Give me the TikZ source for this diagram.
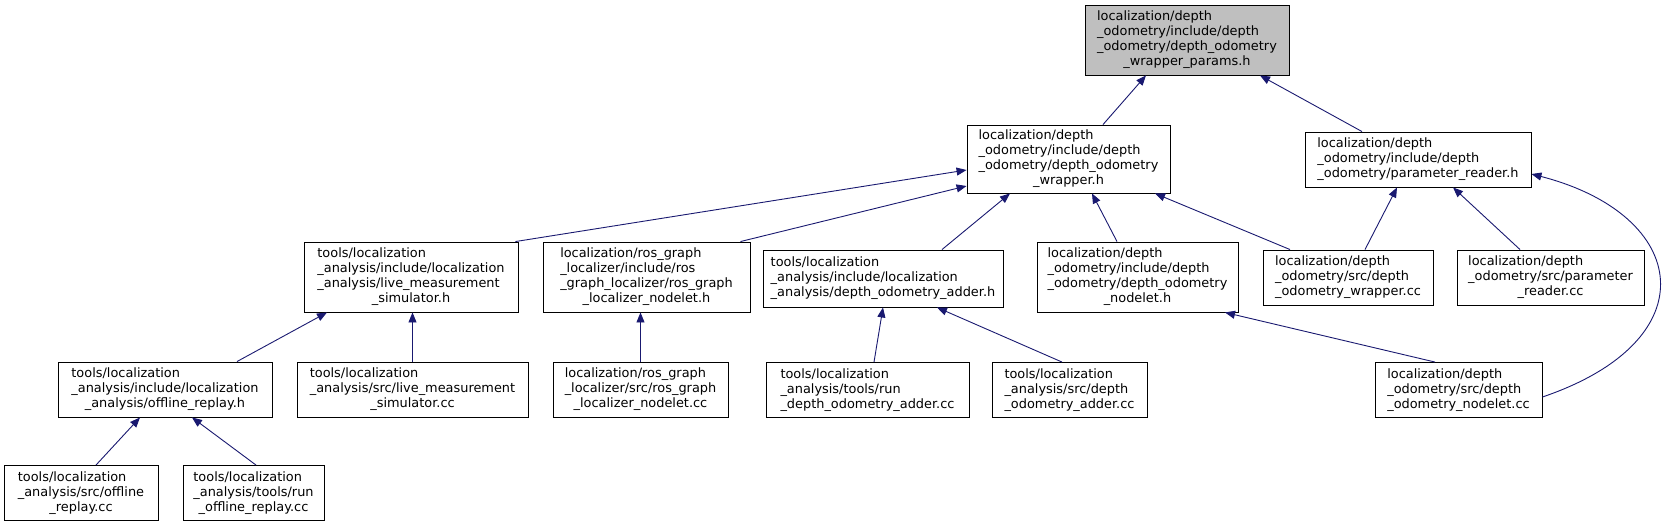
\documentclass[tikz,border=0pt]{standalone}
\usepackage{fontspec}
\setmainfont{DejaVu Sans}
\usepackage{tikz}
\usetikzlibrary{arrows.meta}
\definecolor{edgeblue}{HTML}{191970}
\definecolor{rootgray}{HTML}{BFBFBF}
% left-aligned lines, last line centred
\newcommand{\flines}[2]{\begin{tabular}{@{}l@{}}#1\\\multicolumn{1}{@{}c@{}}{#2}\end{tabular}}

\begin{document}
\begin{tikzpicture}[x=1pt, y=-1pt,
  filebox/.style={draw=black, line width=0.9pt, fill=white, inner sep=0pt,
    font=\fontsize{12.9}{15}\selectfont},
  incl/.style={draw=edgeblue, line width=0.9pt, -{Triangle[length=10pt, width=8pt, fill=edgeblue]}}]
  \useasboundingbox (0,0) rectangle (1676,527);

  % Root header
  \node[filebox, fill=rootgray, minimum width=204pt, minimum height=70pt] (params) at (1187,40)
    {\flines{localization/depth\\\_odometry/include/depth\\\_odometry/depth\_odometry}{\_wrapper\_params.h}};

  % Second row
  \node[filebox, minimum width=203pt, minimum height=68pt] (wrapperh) at (1068.5,159)
    {\flines{localization/depth\\\_odometry/include/depth\\\_odometry/depth\_odometry}{\_wrapper.h}};
  \node[filebox, minimum width=226pt, minimum height=55pt] (readerh) at (1418,159.5)
    {\flines{localization/depth\\\_odometry/include/depth}{\_odometry/parameter\_reader.h}};

  % Third row
  \node[filebox, minimum width=214pt, minimum height=70pt] (livesimh) at (411,277)
    {\flines{tools/localization\\\_analysis/include/localization\\\_analysis/live\_measurement}{\_simulator.h}};
  \node[filebox, minimum width=207pt, minimum height=70pt] (rosh) at (646.5,277)
    {\flines{localization/ros\_graph\\\_localizer/include/ros\\\_graph\_localizer/ros\_graph}{\_localizer\_nodelet.h}};
  \node[filebox, minimum width=240pt, minimum height=57pt] (adderh) at (883,278.5)
    {\flines{tools/localization\\\_analysis/include/localization}{\_analysis/depth\_odometry\_adder.h}};
  \node[filebox, minimum width=201pt, minimum height=70pt] (nodeleth) at (1137.5,277)
    {\flines{localization/depth\\\_odometry/include/depth\\\_odometry/depth\_odometry}{\_nodelet.h}};
  \node[filebox, minimum width=170pt, minimum height=55pt] (wrappercc) at (1348,277.5)
    {\flines{localization/depth\\\_odometry/src/depth}{\_odometry\_wrapper.cc}};
  \node[filebox, minimum width=187pt, minimum height=55pt] (readercc) at (1550.5,277.5)
    {\flines{localization/depth\\\_odometry/src/parameter}{\_reader.cc}};

  % Fourth row
  \node[filebox, minimum width=214pt, minimum height=55pt] (replayh) at (165,389.5)
    {\flines{tools/localization\\\_analysis/include/localization}{\_analysis/offline\_replay.h}};
  \node[filebox, minimum width=231pt, minimum height=55pt] (livesimcc) at (412.5,389.5)
    {\flines{tools/localization\\\_analysis/src/live\_measurement}{\_simulator.cc}};
  \node[filebox, minimum width=175pt, minimum height=55pt] (roscc) at (640.5,389.5)
    {\flines{localization/ros\_graph\\\_localizer/src/ros\_graph}{\_localizer\_nodelet.cc}};
  \node[filebox, minimum width=203pt, minimum height=55pt] (runaddercc) at (867.5,390)
    {\flines{tools/localization\\\_analysis/tools/run}{\_depth\_odometry\_adder.cc}};
  \node[filebox, minimum width=155pt, minimum height=55pt] (addercc) at (1069.5,390)
    {\flines{tools/localization\\\_analysis/src/depth}{\_odometry\_adder.cc}};
  \node[filebox, minimum width=167pt, minimum height=55pt] (nodeletcc) at (1458.5,390)
    {\flines{localization/depth\\\_odometry/src/depth}{\_odometry\_nodelet.cc}};

  % Bottom row
  \node[filebox, minimum width=154pt, minimum height=55pt] (replaycc) at (81,493)
    {\flines{tools/localization\\\_analysis/src/offline}{\_replay.cc}};
  \node[filebox, minimum width=141pt, minimum height=55pt] (runreplaycc) at (253.5,493)
    {\flines{tools/localization\\\_analysis/tools/run}{\_offline\_replay.cc}};

  % Include edges (arrow points at the included header)
  \draw[incl] ([xshift=34.5pt]wrapperh.north) -- ([xshift=-41pt]params.south);
  \draw[incl] ([xshift=-56pt]readerh.north) -- ([xshift=73pt]params.south);
  \draw[incl] ([xshift=-3pt]livesimh.north east) -- ([yshift=-11pt]wrapperh.west);
  \draw[incl] ([xshift=-10pt]rosh.north east) -- ([yshift=-27pt]wrapperh.west);
  \draw[incl] ([xshift=59pt]adderh.north) -- ([xshift=-58.5pt]wrapperh.south);
  \draw[incl] ([xshift=-20.5pt]nodeleth.north) -- ([xshift=23.5pt]wrapperh.south);
  \draw[incl] ([xshift=-58pt]wrappercc.north) -- ([xshift=86.5pt]wrapperh.south);
  \draw[incl] ([xshift=17pt]wrappercc.north) -- ([xshift=-21pt]readerh.south);
  \draw[incl] ([xshift=-30.5pt]readercc.north) -- ([xshift=35pt]readerh.south);
  \draw[incl] ([yshift=-7pt]nodeletcc.east) .. controls (1710,340) and (1690,215) .. ([yshift=-14.5pt]readerh.east);
  \draw[incl] ([xshift=-23.5pt]nodeletcc.north) -- ([xshift=87.5pt]nodeleth.south);
  \draw[incl] ([xshift=72pt]replayh.north) -- ([xshift=-84pt]livesimh.south);
  \draw[incl] (livesimcc.north) -- ([xshift=1.5pt]livesimh.south);
  \draw[incl] (roscc.north) -- ([xshift=-6pt]rosh.south);
  \draw[incl] ([xshift=6.5pt]runaddercc.north) -- (adderh.south);
  \draw[incl] ([xshift=-7.5pt]addercc.north) -- ([xshift=54pt]adderh.south);
  \draw[incl] ([xshift=15pt]replaycc.north) -- ([xshift=-25pt]replayh.south);
  \draw[incl] ([xshift=2.5pt]runreplaycc.north) -- ([xshift=27pt]replayh.south);
\end{tikzpicture}
\end{document}
